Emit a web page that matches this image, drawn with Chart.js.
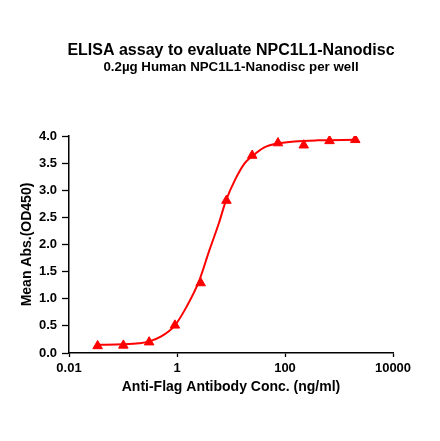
<!DOCTYPE html>
<html>
<head>
<meta charset="utf-8">
<script src="https://cdn.jsdelivr.net/npm/chart.js@4.4.1/dist/chart.umd.min.js"></script>
<style>
    html, body { margin: 0; padding: 0; background: #fff; }
    #wrap { width: 440px; height: 441px; }
</style>
</head>
<body>
<div id="wrap"><canvas id="elisaChart"></canvas></div>
<script>
// measured points (1:3 dilution series)
const concentrations = [0.0339, 0.1016, 0.3048, 0.9145, 2.743, 8.23, 24.69, 74.07, 222.2, 666.7, 2000];
const meanAbs = [0.13, 0.14, 0.20, 0.51, 1.29, 2.81, 3.64, 3.87, 3.83, 3.91, 3.93];

// fitted curve
const curveConc = [0.0339, 0.1, 0.2, 0.3, 0.5, 0.9, 1.5, 2.5, 4, 6, 8, 12, 18, 25, 40, 70, 150, 400, 2000];
const curveAbs = [0.15, 0.16, 0.18, 0.21, 0.30, 0.50, 0.85, 1.30, 1.90, 2.40, 2.80, 3.20, 3.50, 3.63, 3.78, 3.86, 3.90, 3.92, 3.93];

const xTicks = [0.01, 1, 100, 10000];
const xTickLabels = ['0.01', '1', '100', '10000'];

const titleText = 'ELISA assay to evaluate NPC1L1-Nanodisc';
const subtitleText = '0.2µg Human NPC1L1-Nanodisc per well';

const FONT = '"Liberation Sans", Arial, sans-serif';

// titles are centred on the plot area, not the canvas
const plotTitles = {
    id: 'plotTitles',
    afterDraw(chart) {
        const ctx = chart.ctx;
        const cx = (chart.chartArea.left + chart.chartArea.right) / 2;
        ctx.save();
        ctx.fillStyle = '#000';
        ctx.textAlign = 'center';
        ctx.textBaseline = 'middle';
        ctx.font = 'bold 16px ' + FONT;
        ctx.fillText(titleText, cx, 50.5);
        ctx.font = 'bold 13.3px ' + FONT;
        ctx.fillText(subtitleText, cx, 67);
        ctx.restore();
    }
};

const ctx = document.getElementById('elisaChart').getContext('2d');
new Chart(ctx, {
    type: 'scatter',
    data: {
        datasets: [{
            label: 'fit',
            data: curveConc.map((c, i) => ({ x: c, y: curveAbs[i] })),
            showLine: true,
            borderColor: '#ff0000',
            borderWidth: 2,
            cubicInterpolationMode: 'monotone',
            pointRadius: 0,
            pointHoverRadius: 0
        }, {
            label: 'data',
            data: concentrations.map((c, i) => ({ x: c, y: meanAbs[i] })),
            pointStyle: 'triangle',
            pointRadius: 5.5,
            backgroundColor: '#ff0000',
            borderColor: '#ff0000',
            borderWidth: 1
        }]
    },
    options: {
        responsive: true,
        maintainAspectRatio: false,
        animation: false,
        layout: { padding: { top: 136, left: 10, right: 47, bottom: 45 } },
        scales: {
            x: {
                type: 'logarithmic',
                min: 0.01,
                max: 10000,
                afterBuildTicks: axis => { axis.ticks = xTicks.map(v => ({ value: v })); },
                afterFit: axis => { axis.height = 43; },
                ticks: {
                    color: '#000',
                    font: { family: FONT, size: 13, weight: 'bold' },
                    maxRotation: 0,
                    padding: 4,
                    callback: (v) => xTickLabels[xTicks.indexOf(v)]
                },
                grid: { display: true, drawOnChartArea: false, drawTicks: true, tickLength: 4, tickColor: '#000', tickWidth: 1.3 },
                border: { color: '#000', width: 1.5 },
                title: {
                    display: true,
                    text: 'Anti-Flag Antibody Conc. (ng/ml)',
                    color: '#000',
                    font: { family: FONT, size: 14, weight: 'bold' },
                    padding: { top: 0, bottom: 0 }
                }
            },
            y: {
                min: 0,
                max: 4,
                afterFit: axis => { axis.width = 59; },
                ticks: {
                    stepSize: 0.5,
                    color: '#000',
                    font: { family: FONT, size: 13, weight: 'bold' },
                    padding: 5,
                    callback: v => v.toFixed(1)
                },
                grid: { display: true, drawOnChartArea: false, drawTicks: true, tickLength: 7, tickColor: '#000', tickWidth: 1.3 },
                border: { color: '#000', width: 1.5 },
                title: {
                    display: true,
                    text: 'Mean Abs.(OD450)',
                    color: '#000',
                    font: { family: FONT, size: 14, weight: 'bold' },
                    padding: { top: 8.6, bottom: 0 }
                }
            }
        },
        plugins: {
            legend: { display: false },
            tooltip: { enabled: false }
        }
    },
    plugins: [plotTitles]
});
</script>
</body>
</html>
